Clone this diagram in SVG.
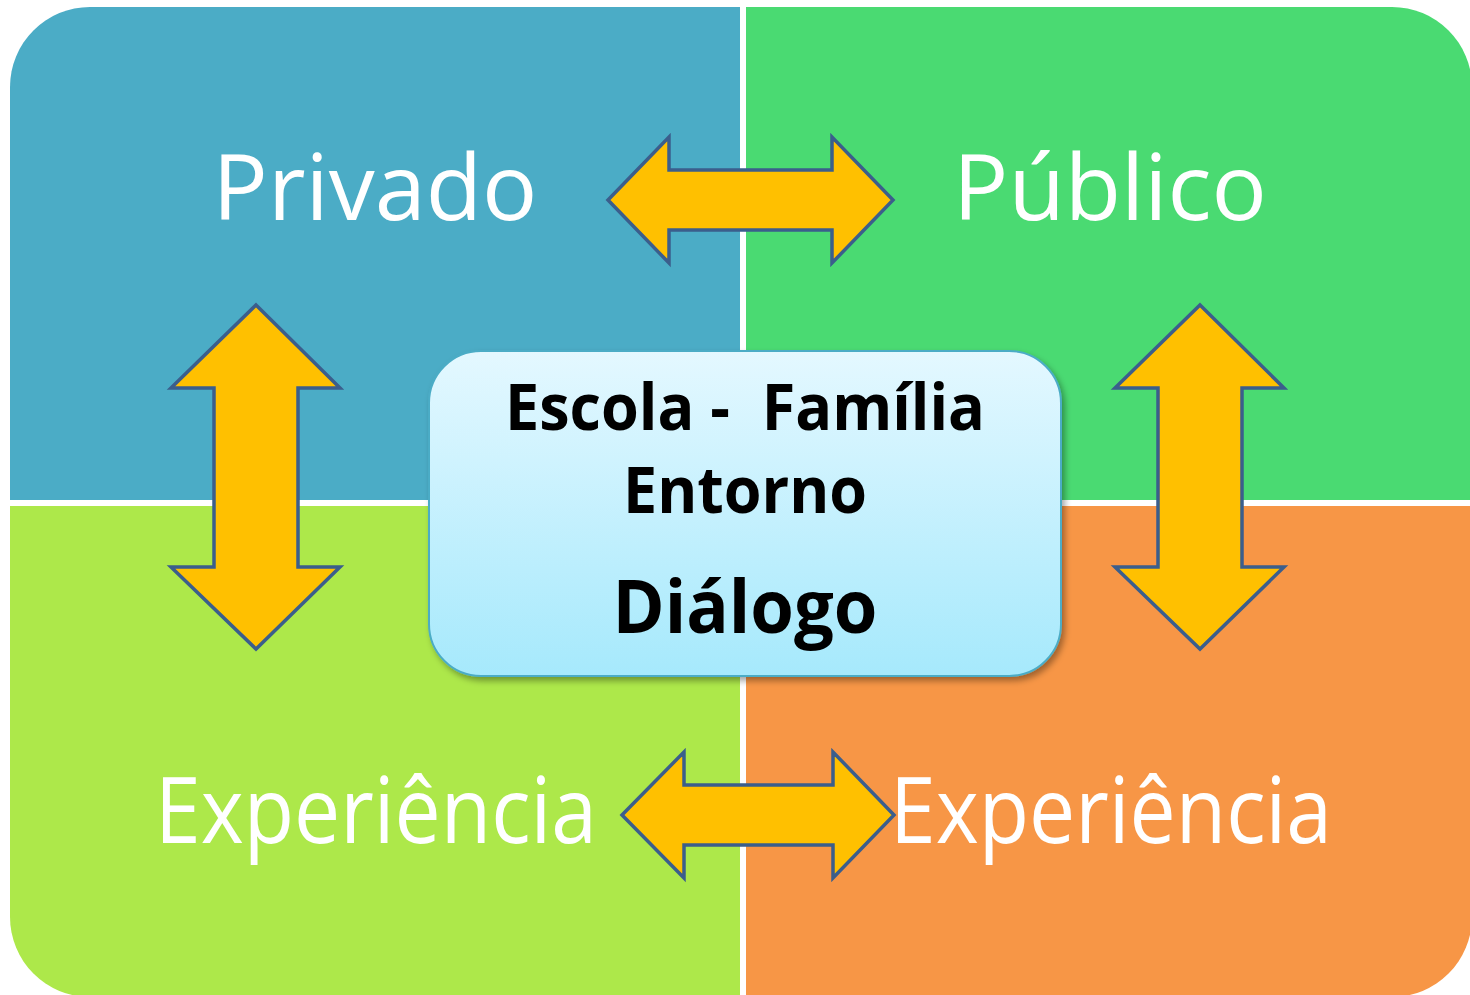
<svg xmlns="http://www.w3.org/2000/svg" width="1470" height="995" viewBox="0 0 1470 995">
<defs>
<style>
.lbl{font-family:"Open Sans","Liberation Sans",sans-serif;font-size:92px;fill:#ffffff;text-anchor:middle}
.ctr{font-family:"Open Sans","Liberation Sans",sans-serif;font-weight:bold;fill:#000000;text-anchor:middle}
.arrow{fill:#FFC000;stroke:#3B5E8C;stroke-width:3.5;stroke-linejoin:miter}
</style>
<linearGradient id="boxg" x1="0" y1="0" x2="0" y2="1">
<stop offset="0" stop-color="#E4F8FF"/>
<stop offset="1" stop-color="#A6E9FC"/>
</linearGradient>
<filter id="sh" x="-10%" y="-10%" width="120%" height="130%">
<feDropShadow dx="3" dy="4" stdDeviation="3" flood-color="#000000" flood-opacity="0.35"/>
</filter>
</defs>
<rect width="1470" height="995" fill="#ffffff"/>
<g id="quadrants">
<path id="q-privado" d="M10,87 A80,80 0 0 1 90,7 L740,7 L740,500 L10,500 Z" fill="#4BACC6"/>
<path id="q-publico" d="M746,7 L1392,7 A80,80 0 0 1 1472,87 L1472,500 L746,500 Z" fill="#4ADA72"/>
<path id="q-exp-left" d="M10,506 L740,506 L740,997 L90,997 A80,80 0 0 1 10,917 Z" fill="#ADE84A"/>
<path id="q-exp-right" d="M746,506 L1472,506 L1472,917 A80,80 0 0 1 1392,997 L746,997 Z" fill="#F79646"/>
</g>
<g id="labels">
<text id="t-privado" class="lbl" x="375" y="220">Privado</text>
<text id="t-publico" class="lbl" x="1110" y="220">Público</text>
<text id="t-exp-left" class="lbl" x="376" y="843" textLength="442" lengthAdjust="spacingAndGlyphs">Experiência</text>
<text id="t-exp-right" class="lbl" x="1111" y="843" textLength="442" lengthAdjust="spacingAndGlyphs">Experiência</text>
</g>
<g id="connectors">
<polygon id="arrow-top" class="arrow" points="608,200 669,137 669,170 832,170 832,137 893,200 832,263 832,230 669,230 669,263"/>
<polygon id="arrow-bottom" class="arrow" points="622,815 684,752 684,785 833,785 833,752 894,815 833,878 833,845 684,845 684,878"/>
<polygon id="arrow-left" class="arrow" points="256,305 340,388 298,388 298,567 340,567 256,649 171,567 214,567 214,388 171,388"/>
<polygon id="arrow-right" class="arrow" points="1200,305 1284,388 1242,388 1242,567 1284,567 1200,649 1115,567 1158,567 1158,388 1115,388"/>
</g>
<g id="center">
<rect x="429" y="351" width="632" height="325" rx="52" ry="52" fill="url(#boxg)" stroke="#4BACC6" stroke-width="2" filter="url(#sh)"/>
<text class="ctr" x="745" y="430" font-size="64" textLength="480" lengthAdjust="spacingAndGlyphs" xml:space="preserve" style="white-space:pre">Escola -  Família</text>
<text class="ctr" x="745" y="513" font-size="64" textLength="244" lengthAdjust="spacingAndGlyphs">Entorno</text>
<text class="ctr" x="745" y="633" font-size="74" textLength="265" lengthAdjust="spacingAndGlyphs">Diálogo</text>
</g>
</svg>
